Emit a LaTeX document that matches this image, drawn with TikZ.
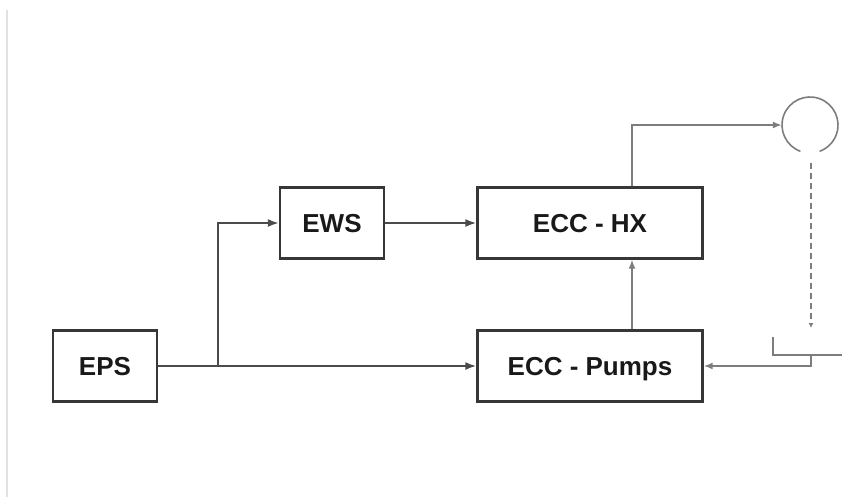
\documentclass[tikz,border=0pt]{standalone}
\usepackage{fontspec}
\setmainfont{Liberation Sans}
\usepackage{xcolor}
\usetikzlibrary{arrows.meta, calc}
\definecolor{boxgray}{RGB}{55,55,55}
\definecolor{flowgray}{RGB}{75,75,75}
\definecolor{loopgray}{RGB}{125,125,125}
\definecolor{edgegray}{RGB}{225,225,225}
\tikzset{
    unitbox/.style={draw=boxgray, line width=2.4pt, fill=white, minimum height=71pt,
        inner sep=0pt, text height=18pt, text depth=0pt,
        font=\fontsize{26}{30}\selectfont\bfseries, text=black!90},
    flow/.style={draw=flowgray, line width=1.8pt, -{Latex[length=11pt,width=8pt]}},
    loop/.style={draw=loopgray, line width=1.6pt, -{Latex[length=9pt,width=7pt]}}
}

\begin{document}
\begin{tikzpicture}[x=1pt, y=-1pt]
            \useasboundingbox (0,0) rectangle (842,497);
            \draw[edgegray, line width=1.2pt] (7,10) -- (7,497);
            \node[unitbox, minimum width=104pt] (eps) at (105,366) {EPS};
            \node[unitbox, minimum width=104pt] (ews) at (332,223) {EWS};
            \node[unitbox, minimum width=225pt] (hx) at (590,223) {ECC - HX};
            \node[unitbox, minimum width=225pt] (pumps) at (590,366) {ECC - Pumps};
            \node[circle, minimum size=56pt, inner sep=0pt] (tank) at (810,125) {};
            \draw[loopgray, line width=1.6pt] (tank.center) ++(110:28) arc[start angle=110, end angle=430, radius=28];
            \coordinate (split) at (218,366);
            \coordinate (sump) at (773,337);
            \coordinate (drain) at (811,355);
            \draw[flow] (eps) -- (pumps);
            \draw[flow] (split) |- (ews);
            \draw[flow] (ews) -- (hx);
            \draw[loop] (pumps.north -| 632,0) -- (hx.south -| 632,0);
            \draw[loop] (hx.north -| 632,0) |- (tank.west);
            \draw[loop, dashed, dash pattern=on 6pt off 4pt, -{Latex[length=5pt,width=5pt]}] (811,163) -- (811,328);
            \draw[loopgray, line width=1.6pt] (sump) -- (773,355) -- (842,355);
            \draw[loop] (drain) |- (pumps.east);
        \end{tikzpicture}
\end{document}
